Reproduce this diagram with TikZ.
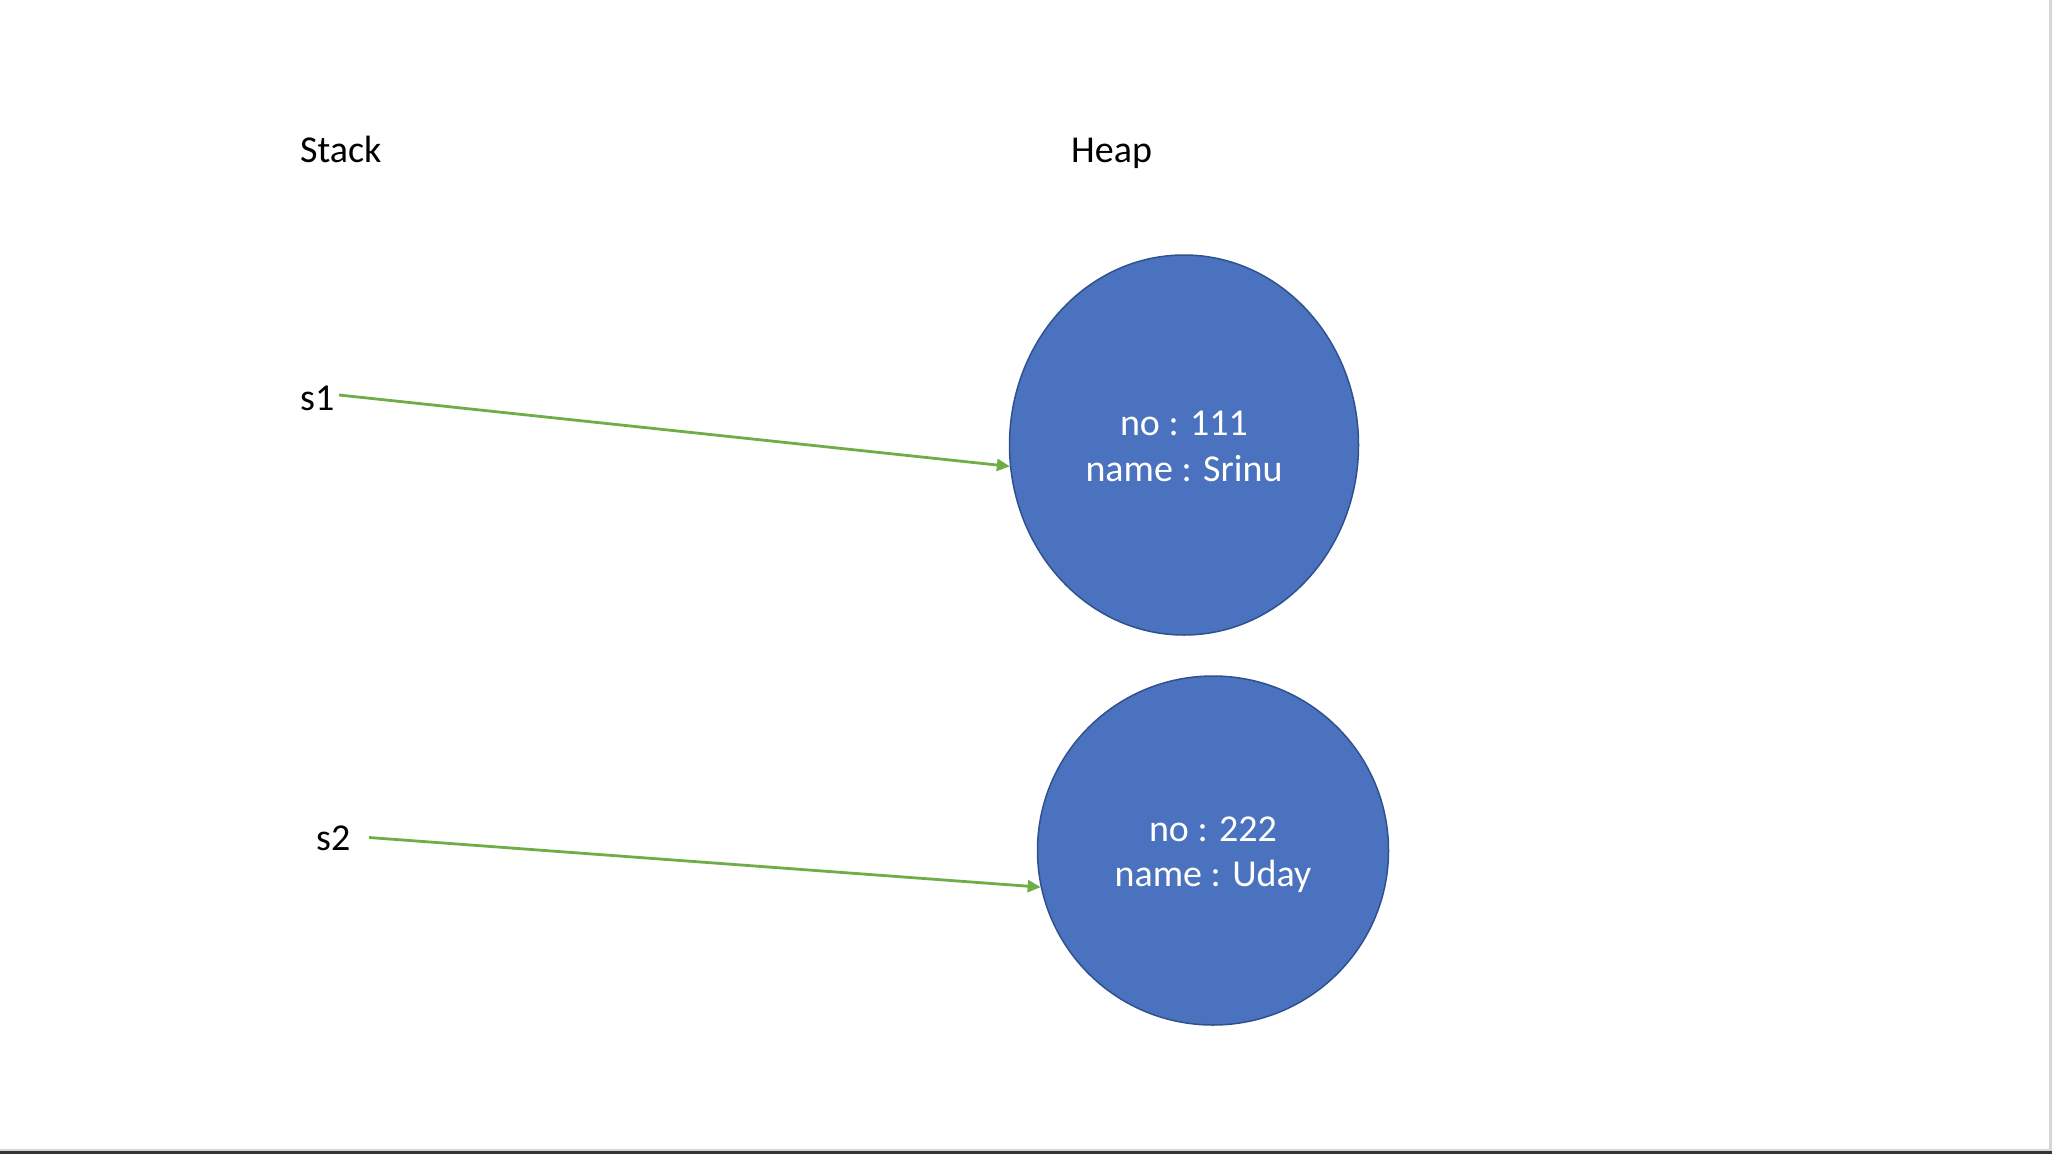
\documentclass[tikz,border=0pt]{standalone}
\usepackage{fontspec}
\setmainfont{Carlito}
\usetikzlibrary{arrows.meta,shapes.geometric}
\definecolor{heapfill}{HTML}{4A72BE}
\definecolor{heapdraw}{HTML}{2F528F}
\definecolor{ptrgreen}{HTML}{70AD47}
\definecolor{edgegrey}{HTML}{D6D6D6}
\definecolor{edgedark}{HTML}{353535}
\tikzset{
  lbl/.style={font=\fontsize{38}{45.8}\selectfont, inner sep=0pt, anchor=base west, text=black},
  heapobj/.style={ellipse, fill=heapfill, draw=heapdraw, line width=1.5pt, inner sep=0pt,
    text=white, align=center, font=\fontsize{38}{45.8}\selectfont},
  ptr/.style={draw=ptrgreen, line width=2.8pt, -{Triangle[length=13pt,width=12pt]}}
}
\newcommand{\topstrut}{\rule{0pt}{35pt}}
\newcommand{\botstrut}{\rule[-8pt]{0pt}{8pt}}
\begin{document}
\begin{tikzpicture}[x=1pt,y=-1pt]
  \useasboundingbox (0,0) rectangle (2052,1154);
  \fill[white] (0,0) rectangle (2052,1154);
  % page edges
  \fill[edgegrey] (2049,0) rectangle (2052,1151);
  \fill[edgegrey] (0,1148.5) rectangle (2052,1151);
  \fill[edgedark] (0,1151) rectangle (2052,1154);
  % labels
  \node[lbl] (stack) at (300,162) {Stack};
  \node[lbl] (heap) at (1071,162) {Heap};
  \node[lbl] (s1) at (300,410) {s1};
  \node[lbl] (s2) at (316,850) {s2};
  % heap objects
  \node[heapobj, minimum width=349pt, minimum height=380pt] (e1) at (1184,445)
    {\topstrut no : 111\\ name : Srinu\botstrut};
  \node[heapobj, minimum width=351pt, minimum height=349pt] (e2) at (1213,850.5)
    {\topstrut no : 222\\ name : Uday\botstrut};
  % pointers
  \coordinate (a1) at (339,395);
  \coordinate (a2) at (369,837.5);
  \draw[ptr] (a1) -- (e1.187);
  \draw[ptr] (a2) -- (e2.192);
\end{tikzpicture}
\end{document}
